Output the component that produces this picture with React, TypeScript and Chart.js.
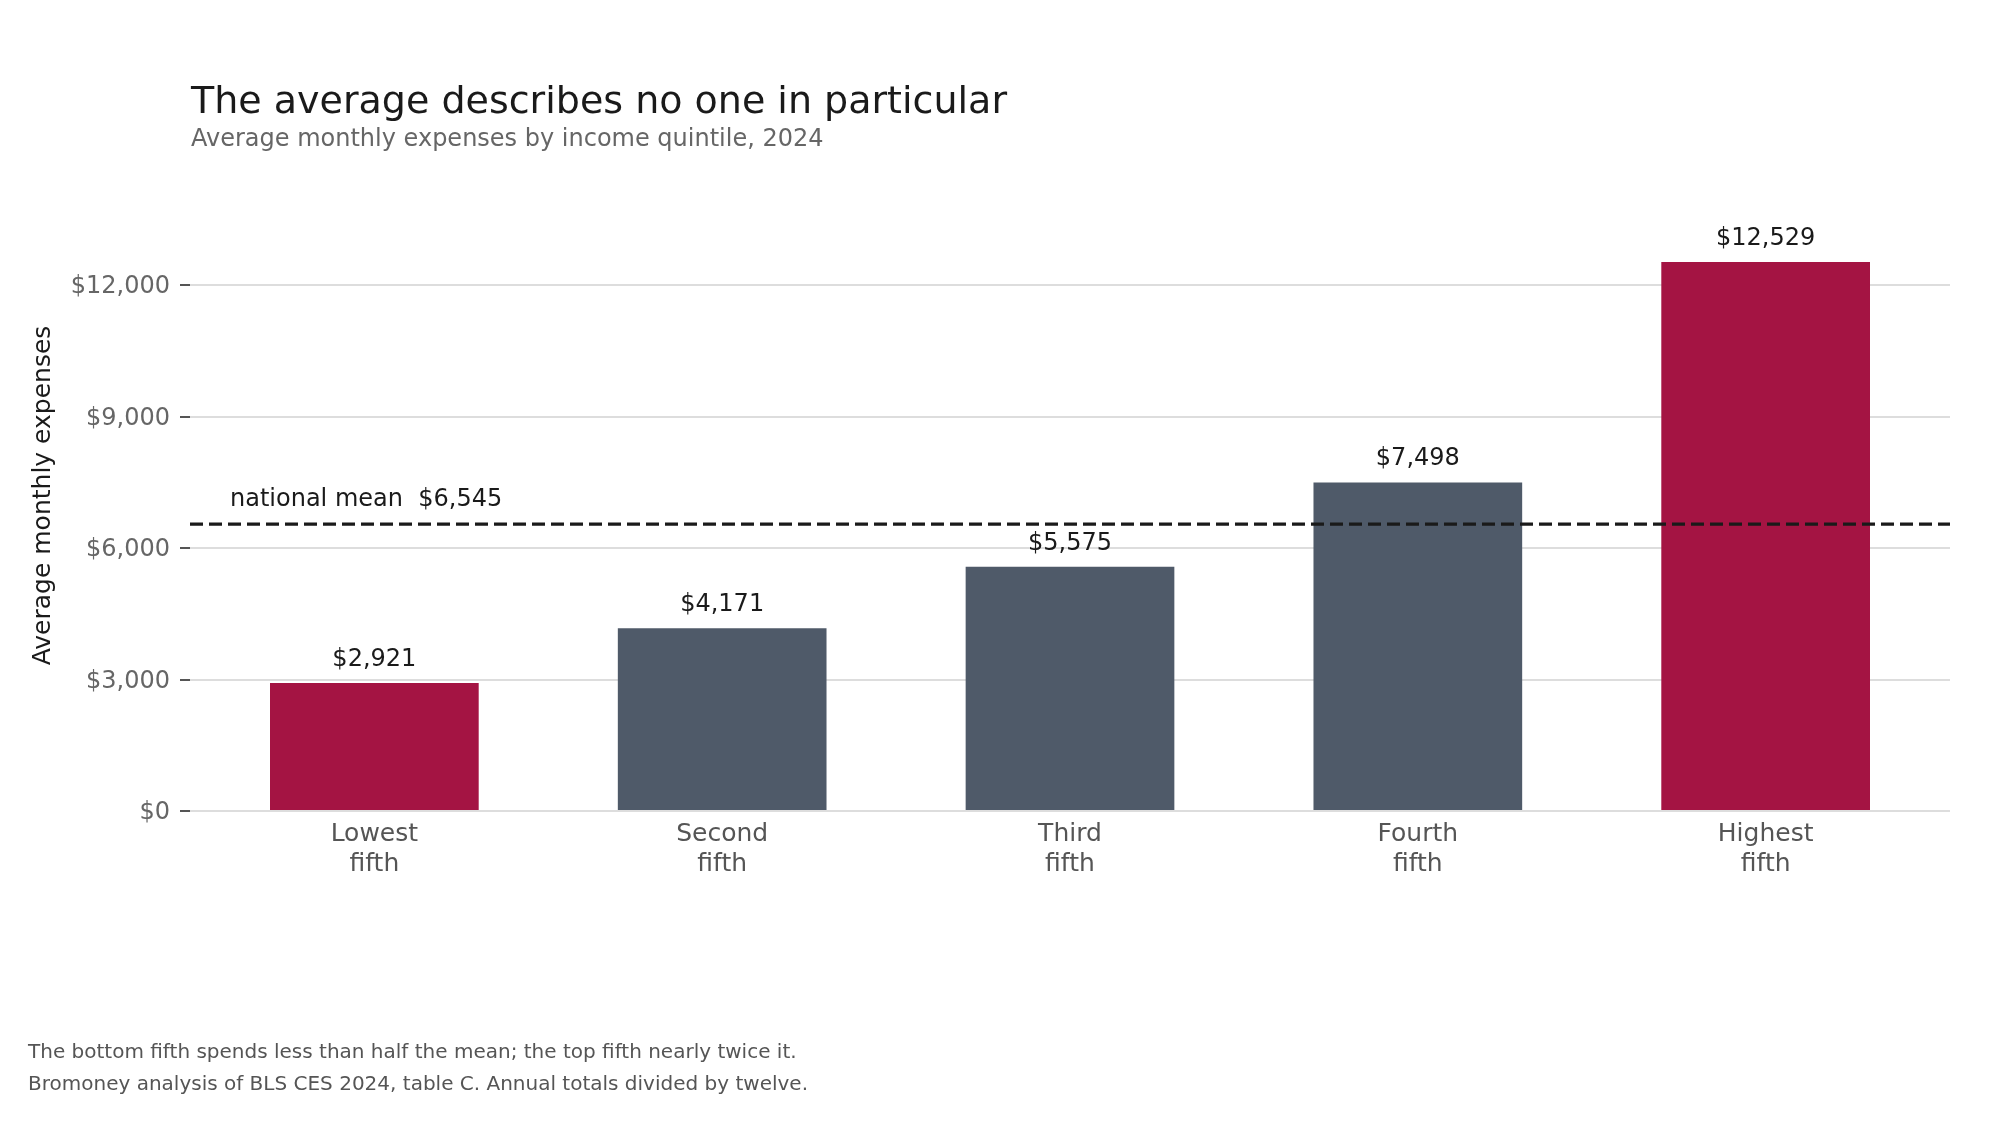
import React, { useEffect, useRef } from 'react';
import { Chart, registerables } from 'chart.js';

Chart.register(...registerables);

const QUINTILES = [
    ['Lowest', 'fifth'],
    ['Second', 'fifth'],
    ['Third', 'fifth'],
    ['Fourth', 'fifth'],
    ['Highest', 'fifth'],
];
const MONTHLY_EXPENSES = [2921, 4171, 5575, 7498, 12529];
const NATIONAL_MEAN = 6545;
const Y_TICKS = [0, 3000, 6000, 9000, 12000];
// bars drawn in the accent colour (lowest and highest fifth)
const HIGHLIGHTED = [0, 4];

const TITLE = 'The average describes no one in particular';
const SUBTITLE = 'Average monthly expenses by income quintile, 2024';
const Y_TITLE = 'Average monthly expenses';
const FOOTNOTES = [
    'The bottom fifth spends less than half the mean; the top fifth nearly twice it.',
    'Bromoney analysis of BLS CES 2024, table C. Annual totals divided by twelve.',
];

const CRIMSON = '#a41443';
const SLATE = '#4f5a69';
const FONT = '"DejaVu Sans", sans-serif';

const money = (v: number) => '$' + v.toLocaleString('en-US');

const App = () => {
    const chartRef = useRef<HTMLCanvasElement>(null);
    const chartInstance = useRef<Chart | null>(null);

    useEffect(() => {
        if (!chartRef.current) return;
        const ctx = chartRef.current.getContext('2d');
        if (!ctx) return;

        if (chartInstance.current) {
            chartInstance.current.destroy();
        }

        Chart.defaults.font.family = FONT;

        // Línea de la media, etiquetas de valores y textos del encabezado / pie
        const annotations = {
            id: 'annotations',
            afterDatasetsDraw: (chart: Chart) => {
                const c = chart.ctx;
                const area = chart.chartArea;
                const yMean = chart.scales.y.getPixelForValue(NATIONAL_MEAN);

                c.save();
                c.strokeStyle = '#1a1a1a';
                c.lineWidth = 3.2;
                c.setLineDash([13, 6]);
                c.beginPath();
                c.moveTo(area.left, yMean);
                c.lineTo(area.right, yMean);
                c.stroke();
                c.setLineDash([]);

                c.fillStyle = '#1a1a1a';
                c.font = `24px ${FONT}`;
                c.textAlign = 'left';
                c.textBaseline = 'alphabetic';
                c.fillText(`national mean  ${money(NATIONAL_MEAN)}`, area.left + 40, yMean - 18);

                c.textAlign = 'center';
                const meta = chart.getDatasetMeta(0);
                meta.data.forEach((bar: any, i: number) => {
                    c.fillText(money(MONTHLY_EXPENSES[i]), bar.x, bar.y - 17);
                });
                c.restore();
            },
            afterDraw: (chart: Chart) => {
                const c = chart.ctx;
                const area = chart.chartArea;
                c.save();
                c.textAlign = 'left';
                c.textBaseline = 'alphabetic';
                c.fillStyle = '#1a1a1a';
                c.font = `38px ${FONT}`;
                c.fillText(TITLE, area.left + 1, 113);
                c.fillStyle = '#666666';
                c.font = `24px ${FONT}`;
                c.fillText(SUBTITLE, area.left + 1, 146);
                c.fillStyle = '#555555';
                c.font = `20px ${FONT}`;
                FOOTNOTES.forEach((line, i) => c.fillText(line, 28, 1058 + i * 32));
                c.restore();
            },
        };

        chartInstance.current = new Chart(ctx, {
            type: 'bar',
            data: {
                datasets: [{
                    data: MONTHLY_EXPENSES.map((v, i) => ({ x: i, y: v })),
                    backgroundColor: (c: any) => (HIGHLIGHTED.includes(c.dataIndex) ? CRIMSON : SLATE),
                    borderWidth: 0,
                    barPercentage: 0.6,
                    categoryPercentage: 1,
                }],
            },
            plugins: [annotations],
            options: {
                responsive: false,
                devicePixelRatio: 1,
                animation: false,
                layout: { padding: { top: 180, right: 50, bottom: 0, left: 0 } },
                scales: {
                    x: {
                        type: 'linear',
                        offset: false,
                        min: -0.53,
                        max: 4.53,
                        grid: { display: false, offset: false },
                        border: { display: false },
                        afterBuildTicks: (axis: any) => {
                            axis.ticks = QUINTILES.map((_, i) => ({ value: i }));
                        },
                        afterFit: (scale: any) => {
                            scale.height = 314;
                        },
                        ticks: {
                            padding: 0,
                            color: '#555555',
                            font: { size: 25, lineHeight: 1.2 },
                            maxRotation: 0,
                            minRotation: 0,
                            autoSkip: false,
                            callback: (v: any) => QUINTILES[v] ?? '',
                        },
                    },
                    y: {
                        min: 0,
                        max: 14400,
                        border: { display: false },
                        afterBuildTicks: (axis: any) => {
                            axis.ticks = Y_TICKS.map(value => ({ value }));
                        },
                        afterFit: (scale: any) => {
                            scale.width = 190;
                        },
                        grid: {
                            color: '#dddddd',
                            lineWidth: 2,
                            tickColor: '#555555',
                            tickWidth: 2,
                            tickLength: 10,
                        },
                        ticks: {
                            padding: 10,
                            labelOffset: 2,
                            color: '#666666',
                            font: { size: 24 },
                            callback: (v: any) => money(Number(v)),
                        },
                        title: {
                            display: true,
                            text: Y_TITLE,
                            color: '#1a1a1a',
                            font: { size: 25 },
                            padding: { top: 28, bottom: 0 },
                        },
                    },
                },
                plugins: {
                    legend: { display: false },
                    tooltip: { enabled: false },
                },
            },
        });

        return () => {
            if (chartInstance.current) {
                chartInstance.current.destroy();
                chartInstance.current = null;
            }
        };
    }, []);

    return (
        <div style={{ position: 'absolute', left: 0, top: 0, width: '2000px', height: '1125px', background: '#ffffff' }}>
            <canvas ref={chartRef} width={2000} height={1125} style={{ display: 'block' }}></canvas>
        </div>
    );
};

export default App;
